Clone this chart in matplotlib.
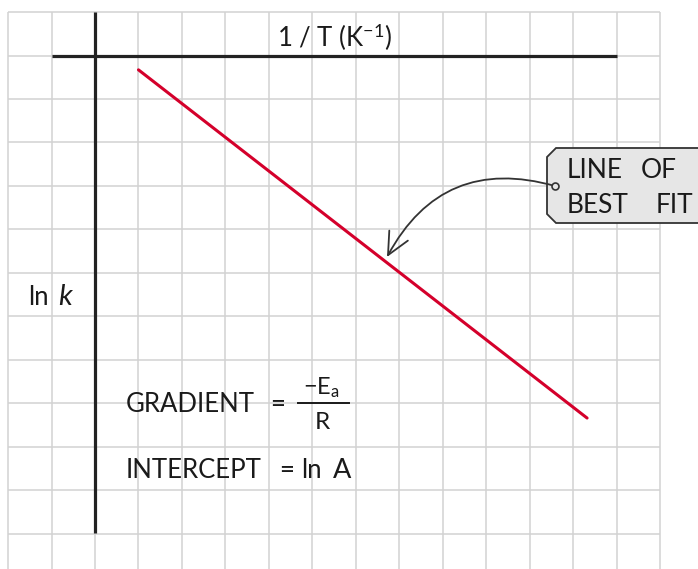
import matplotlib
matplotlib.use("Agg")
import matplotlib.pyplot as plt
from matplotlib.patches import Polygon, FancyArrowPatch
import numpy as np

plt.rcParams['font.family'] = ['Lato', 'DejaVu Sans']
plt.rcParams['mathtext.fontset'] = 'custom'
plt.rcParams['mathtext.rm'] = 'Lato'
plt.rcParams['mathtext.it'] = 'Lato:italic'
plt.rcParams['mathtext.bf'] = 'Lato:bold'

# ---- data (grid units; origin at axes crossing) ----
line_x = [1.0, 11.32]          # 1/T
line_y = [-0.33, -8.34]        # ln k
x_label = "1 / T (K$^{-1}$)"
y_label_ln = "ln"
y_label_k = "k"
gradient_label = "GRADIENT"
eq_sign = "="
frac_num = r"$-\mathrm{E}_{\mathrm{a}}$"
frac_den = "R"
intercept_label = "INTERCEPT"
intercept_ln = "ln"
intercept_A = "A"
callout_words = [["LINE", "OF"], ["BEST", "FIT"]]

# ---- layout ----
U = 43.47  # px per grid cell
def px(x, y):
    return ((x - 95) / U, (55.5 - y) / U)

fig = plt.figure(figsize=(6.98, 5.69), dpi=100)
ax = fig.add_axes([0, 0, 1, 1])
x0, y0 = px(0, 569)
x1, y1 = px(698, 0)
ax.set_xlim(x0, x1)
ax.set_ylim(y0, y1)
ax.axis('off')

grid_c = '#d2d2d2'
for gx in range(-2, 14):
    ax.plot([gx, gx], [1, -12.5], color=grid_c, lw=1.1, zorder=1, solid_capstyle='butt')
for gy in range(1, -12, -1):
    ax.plot([-2, 13], [gy, gy], color=grid_c, lw=1.1, zorder=1, solid_capstyle='butt')

# axes
ax.plot([-1, 12.01], [0, 0], color='#222222', lw=2.3, zorder=3, solid_capstyle='butt')
ax.plot([0, 0], [1, -10.98], color='#222222', lw=2.3, zorder=3, solid_capstyle='butt')

# best-fit line
ax.plot(line_x, line_y, color='#d4002b', lw=2.2, zorder=4, solid_capstyle='round')

# labels
tc = '#1a1a1a'
fs = 18.5
ax.text(*px(334.5, 47), x_label, ha='center', va='baseline', fontsize=fs, color=tc)
ax.text(*px(28, 305), y_label_ln, ha='left', va='baseline', fontsize=fs, color=tc)
ax.text(*px(58, 305), y_label_k, ha='left', va='baseline', fontsize=21, color=tc, style='italic')

ax.text(*px(126, 412), gradient_label, ha='left', va='baseline', fontsize=fs, color=tc)
ax.text(*px(277.5, 412), eq_sign, ha='center', va='baseline', fontsize=fs, color=tc)
bx0, by = px(298, 403)
bx1, _ = px(349, 403)
ax.plot([bx0, bx1], [by, by], color=tc, lw=1.4, zorder=5)
ax.text(*px(321, 394), frac_num, ha='center', va='baseline', fontsize=17, color=tc)
ax.text(*px(322, 429), frac_den, ha='center', va='baseline', fontsize=17.5, color=tc)

ax.text(*px(126, 478), intercept_label, ha='left', va='baseline', fontsize=fs, color=tc)
ax.text(*px(286.5, 478), eq_sign, ha='center', va='baseline', fontsize=fs, color=tc)
ax.text(*px(301, 478), intercept_ln, ha='left', va='baseline', fontsize=fs, color=tc)
ax.text(*px(333, 478), intercept_A, ha='left', va='baseline', fontsize=19.5, color=tc)

# callout box
pts = [px(547, 157), px(556, 148), px(720, 148), px(720, 223), px(556, 223), px(547, 214)]
ax.add_patch(Polygon(pts, closed=True, facecolor='#e6e6e6', edgecolor='#333333', lw=1.3, zorder=6))
ax.text(*px(567, 178), callout_words[0][0], ha='left', va='baseline', fontsize=19, color=tc, zorder=7)
ax.text(*px(641, 178), callout_words[0][1], ha='left', va='baseline', fontsize=19, color=tc, zorder=7)
ax.text(*px(567, 213), callout_words[1][0], ha='left', va='baseline', fontsize=19, color=tc, zorder=7)
ax.text(*px(656, 213), callout_words[1][1], ha='left', va='baseline', fontsize=19, color=tc, zorder=7)

# curved arrow
start = px(555, 186)
end = px(387, 257)
arr = FancyArrowPatch(start, end, connectionstyle="arc3,rad=0.4",
                      arrowstyle="->,head_length=0.8,head_width=0.38",
                      mutation_scale=20, color='#333333', lw=1.3,
                      shrinkA=0, shrinkB=0, zorder=7)
ax.add_patch(arr)
ax.plot([start[0]], [start[1]], marker='o', ms=5, mfc='#e6e6e6', mec='#333333', mew=1.2, zorder=8)

fig.savefig("out.png", dpi=100)
